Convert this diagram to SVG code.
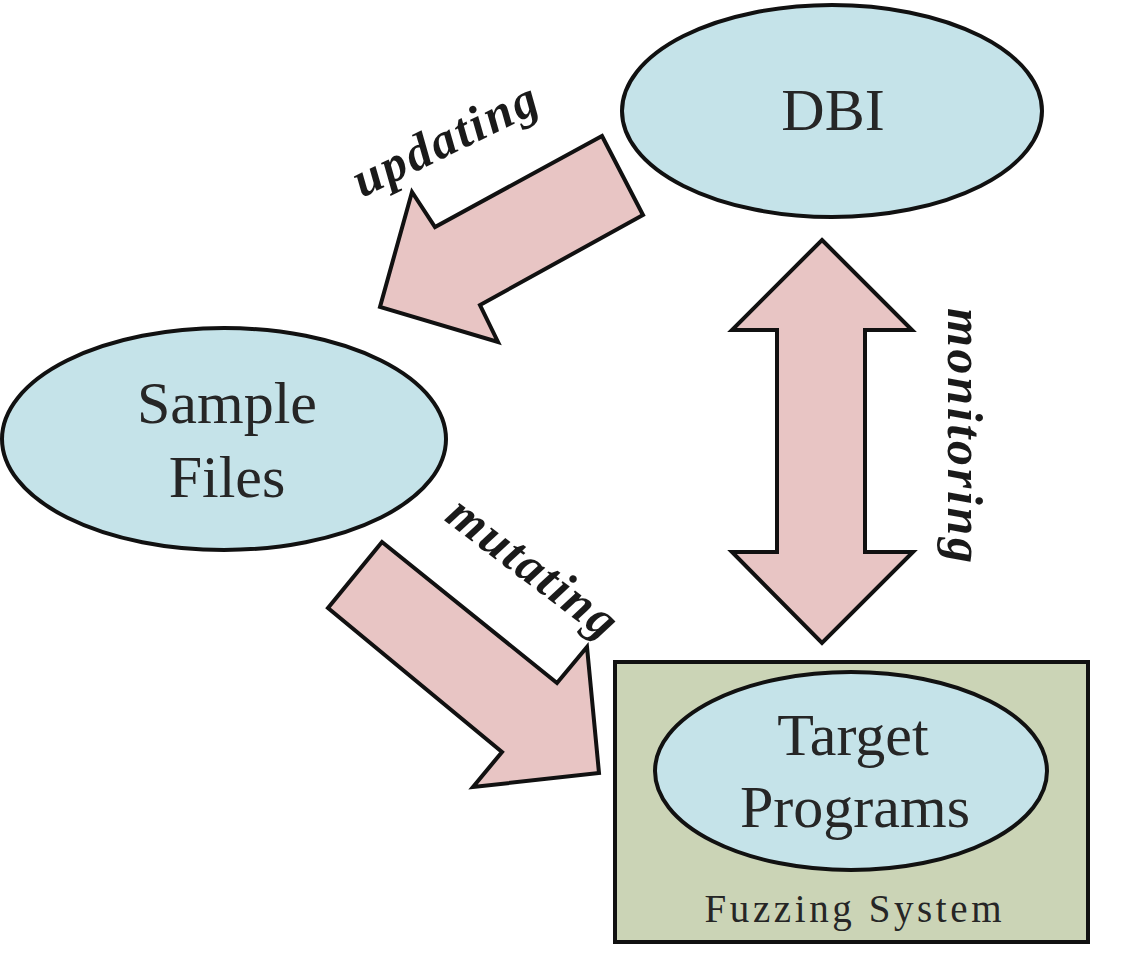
<svg xmlns="http://www.w3.org/2000/svg" width="1128" height="958" viewBox="0 0 1128 958">
<style>
.ell{fill:#c5e3e9;stroke:#111;stroke-width:4}
.arr{fill:#e8c5c4;stroke:#111;stroke-width:4;stroke-linejoin:miter}
.box{fill:#cbd4b6;stroke:#111;stroke-width:4}
.nt{font-family:"Liberation Serif","Times New Roman",serif;font-size:60px;fill:#262626;text-anchor:middle}
.ft{font-family:"Liberation Serif","Times New Roman",serif;font-size:39px;fill:#262626;text-anchor:middle}
.lb{font-family:"Liberation Serif","Times New Roman",serif;font-size:50px;font-weight:bold;font-style:italic;fill:#1a1a1a}
</style>
<rect width="1128" height="958" fill="#ffffff"/>
<g id="connectors">
  <g id="updating">
    <polygon class="arr" points="602,136 643,215 480,305 498,342 380,307 412,192 435,227"/>
    <text class="lb" x="362" y="198" textLength="200" lengthAdjust="spacing" transform="rotate(-26 362 198)">updating</text>
  </g>
  <g id="mutating">
    <polygon class="arr" points="382,542 328,608 502,752 473,787 599,773 587,647 557,683"/>
    <text class="lb" x="523" y="580" text-anchor="middle" textLength="200" lengthAdjust="spacing" transform="rotate(37 523 580)">mutating</text>
  </g>
  <g id="monitoring">
    <polygon class="arr" points="822,240 912,330 865,330 865,552 913,552 822,643 732,552 777,552 777,330 732,330"/>
    <text class="lb" x="948" y="308" textLength="255" lengthAdjust="spacing" transform="rotate(90 948 308)">monitoring</text>
  </g>
</g>
<g id="dbi">
  <ellipse class="ell" cx="832" cy="111" rx="210" ry="106"/>
  <text class="nt" x="833" y="130">DBI</text>
</g>
<g id="sample-files">
  <ellipse class="ell" cx="224" cy="439" rx="222" ry="111"/>
  <text class="nt" x="227" y="423">Sample</text>
  <text class="nt" x="227" y="497">Files</text>
</g>
<g id="fuzzing-system">
  <rect class="box" x="615" y="662" width="473" height="280"/>
  <text class="ft" x="853" y="922" textLength="297" lengthAdjust="spacing">Fuzzing System</text>
</g>
<g id="target-programs">
  <ellipse class="ell" cx="851" cy="771" rx="196" ry="99"/>
  <text class="nt" x="853" y="755">Target</text>
  <text class="nt" x="855" y="827">Programs</text>
</g>
</svg>
